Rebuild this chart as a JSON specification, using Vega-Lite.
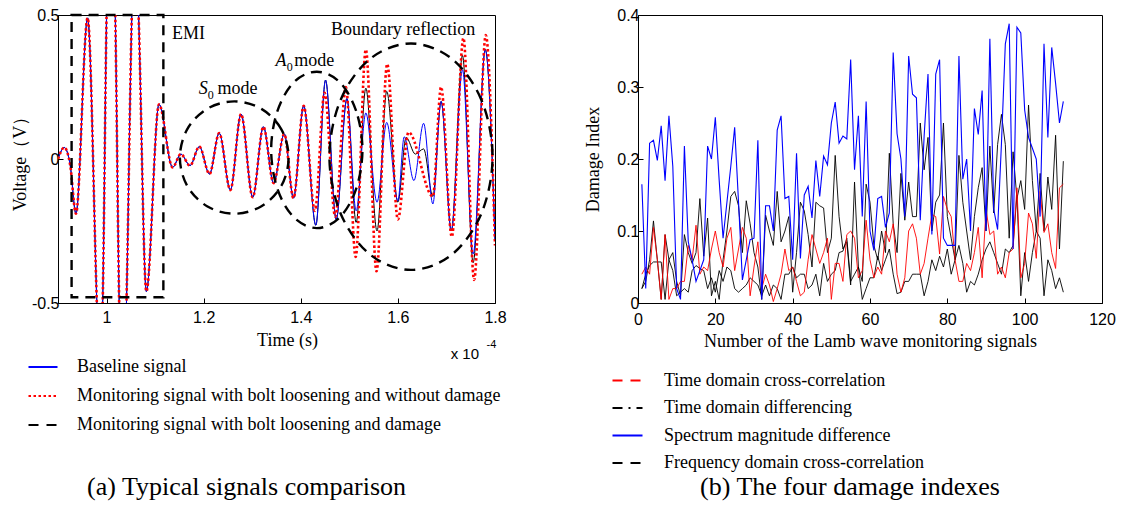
{
 "$schema": "https://vega.github.io/schema/vega-lite/v6.json",
 "background": "white",
 "padding": {"left": 10, "top": 6, "right": 5, "bottom": 0},
 "spacing": 143,
 "bounds": "flush",
 "resolve": {"scale": {"color": "independent"}, "legend": {"color": "independent"}},
 "datasets": {
  "sig": [
   {"s":"Baseline signal","t":0.900,"v":0},{"s":"Baseline signal","t":0.913,"v":0.04},{"s":"Baseline signal","t":0.925,"v":-0.02},{"s":"Baseline signal","t":0.937,"v":-0.19},{"s":"Baseline signal","t":0.961,"v":0.49},{"s":"Baseline signal","t":0.980,"v":-0.5},{"s":"Baseline signal","t":0.986,"v":-0.8},{"s":"Baseline signal","t":0.992,"v":-0.5},{"s":"Baseline signal","t":1.000,"v":0.5},{"s":"Baseline signal","t":1.009,"v":1.1},{"s":"Baseline signal","t":1.018,"v":0.5},{"s":"Baseline signal","t":1.026,"v":-0.5},{"s":"Baseline signal","t":1.034,"v":-0.95},{"s":"Baseline signal","t":1.041,"v":-0.5},{"s":"Baseline signal","t":1.052,"v":0.5},{"s":"Baseline signal","t":1.059,"v":0.85},{"s":"Baseline signal","t":1.066,"v":0.5},{"s":"Baseline signal","t":1.082,"v":-0.46},{"s":"Baseline signal","t":1.108,"v":0.19},{"s":"Baseline signal","t":1.136,"v":-0.029},{"s":"Baseline signal","t":1.153,"v":0.017},{"s":"Baseline signal","t":1.172,"v":-0.023},{"s":"Baseline signal","t":1.191,"v":0.043},{"s":"Baseline signal","t":1.212,"v":-0.052},{"s":"Baseline signal","t":1.232,"v":0.09},{"s":"Baseline signal","t":1.255,"v":-0.108},{"s":"Baseline signal","t":1.277,"v":0.156},{"s":"Baseline signal","t":1.301,"v":-0.133},{"s":"Baseline signal","t":1.323,"v":0.112},{"s":"Baseline signal","t":1.344,"v":-0.084},{"s":"Baseline signal","t":1.366,"v":0.087},{"s":"Baseline signal","t":1.385,"v":-0.136},{"s":"Baseline signal","t":1.406,"v":0.185},{"s":"Baseline signal","t":1.431,"v":-0.23},{"s":"Baseline signal","t":1.451,"v":0.274},{"s":"Baseline signal","t":1.473,"v":-0.21},{"s":"Baseline signal","t":1.495,"v":0.21},{"s":"Baseline signal","t":1.514,"v":-0.18},{"s":"Baseline signal","t":1.534,"v":0.16},{"s":"Baseline signal","t":1.557,"v":-0.15},{"s":"Baseline signal","t":1.577,"v":0.127},{"s":"Baseline signal","t":1.600,"v":-0.145},{"s":"Baseline signal","t":1.613,"v":0.077},{"s":"Baseline signal","t":1.633,"v":-0.075},{"s":"Baseline signal","t":1.653,"v":0.124},{"s":"Baseline signal","t":1.672,"v":-0.156},{"s":"Baseline signal","t":1.689,"v":0.2},{"s":"Baseline signal","t":1.710,"v":-0.25},{"s":"Baseline signal","t":1.733,"v":0.31},{"s":"Baseline signal","t":1.755,"v":-0.33},{"s":"Baseline signal","t":1.780,"v":0.38},{"s":"Baseline signal","t":1.800,"v":-0.28},

   {"s":"Monitoring signal with bolt loosening and without damage","t":0.900,"v":0},{"s":"Monitoring signal with bolt loosening and without damage","t":0.913,"v":0.04},{"s":"Monitoring signal with bolt loosening and without damage","t":0.925,"v":-0.02},{"s":"Monitoring signal with bolt loosening and without damage","t":0.937,"v":-0.19},{"s":"Monitoring signal with bolt loosening and without damage","t":0.961,"v":0.49},{"s":"Monitoring signal with bolt loosening and without damage","t":0.980,"v":-0.5},{"s":"Monitoring signal with bolt loosening and without damage","t":0.986,"v":-0.8},{"s":"Monitoring signal with bolt loosening and without damage","t":0.992,"v":-0.5},{"s":"Monitoring signal with bolt loosening and without damage","t":1.000,"v":0.5},{"s":"Monitoring signal with bolt loosening and without damage","t":1.009,"v":1.1},{"s":"Monitoring signal with bolt loosening and without damage","t":1.018,"v":0.5},{"s":"Monitoring signal with bolt loosening and without damage","t":1.026,"v":-0.5},{"s":"Monitoring signal with bolt loosening and without damage","t":1.034,"v":-0.95},{"s":"Monitoring signal with bolt loosening and without damage","t":1.041,"v":-0.5},{"s":"Monitoring signal with bolt loosening and without damage","t":1.052,"v":0.5},{"s":"Monitoring signal with bolt loosening and without damage","t":1.059,"v":0.85},{"s":"Monitoring signal with bolt loosening and without damage","t":1.066,"v":0.5},{"s":"Monitoring signal with bolt loosening and without damage","t":1.082,"v":-0.46},{"s":"Monitoring signal with bolt loosening and without damage","t":1.108,"v":0.19},{"s":"Monitoring signal with bolt loosening and without damage","t":1.136,"v":-0.029},{"s":"Monitoring signal with bolt loosening and without damage","t":1.153,"v":0.017},{"s":"Monitoring signal with bolt loosening and without damage","t":1.172,"v":-0.023},{"s":"Monitoring signal with bolt loosening and without damage","t":1.191,"v":0.043},{"s":"Monitoring signal with bolt loosening and without damage","t":1.212,"v":-0.052},{"s":"Monitoring signal with bolt loosening and without damage","t":1.232,"v":0.09},{"s":"Monitoring signal with bolt loosening and without damage","t":1.255,"v":-0.108},{"s":"Monitoring signal with bolt loosening and without damage","t":1.277,"v":0.156},{"s":"Monitoring signal with bolt loosening and without damage","t":1.301,"v":-0.133},{"s":"Monitoring signal with bolt loosening and without damage","t":1.323,"v":0.112},{"s":"Monitoring signal with bolt loosening and without damage","t":1.344,"v":-0.084},{"s":"Monitoring signal with bolt loosening and without damage","t":1.366,"v":0.087},{"s":"Monitoring signal with bolt loosening and without damage","t":1.385,"v":-0.136},{"s":"Monitoring signal with bolt loosening and without damage","t":1.406,"v":0.185},{"s":"Monitoring signal with bolt loosening and without damage","t":1.429,"v":-0.18},{"s":"Monitoring signal with bolt loosening and without damage","t":1.449,"v":0.23},{"s":"Monitoring signal with bolt loosening and without damage","t":1.471,"v":-0.2},{"s":"Monitoring signal with bolt loosening and without damage","t":1.493,"v":0.25},{"s":"Monitoring signal with bolt loosening and without damage","t":1.513,"v":-0.34},{"s":"Monitoring signal with bolt loosening and without damage","t":1.534,"v":0.38},{"s":"Monitoring signal with bolt loosening and without damage","t":1.556,"v":-0.39},{"s":"Monitoring signal with bolt loosening and without damage","t":1.578,"v":0.33},{"s":"Monitoring signal with bolt loosening and without damage","t":1.600,"v":-0.21},{"s":"Monitoring signal with bolt loosening and without damage","t":1.622,"v":0.093},{"s":"Monitoring signal with bolt loosening and without damage","t":1.672,"v":-0.13},{"s":"Monitoring signal with bolt loosening and without damage","t":1.689,"v":0.25},{"s":"Monitoring signal with bolt loosening and without damage","t":1.711,"v":-0.27},{"s":"Monitoring signal with bolt loosening and without damage","t":1.735,"v":0.42},{"s":"Monitoring signal with bolt loosening and without damage","t":1.757,"v":-0.42},{"s":"Monitoring signal with bolt loosening and without damage","t":1.781,"v":0.43},{"s":"Monitoring signal with bolt loosening and without damage","t":1.800,"v":-0.3},

   {"s":"Monitoring signal with bolt loosening and damage","t":0.900,"v":0},{"s":"Monitoring signal with bolt loosening and damage","t":0.913,"v":0.04},{"s":"Monitoring signal with bolt loosening and damage","t":0.925,"v":-0.02},{"s":"Monitoring signal with bolt loosening and damage","t":0.937,"v":-0.19},{"s":"Monitoring signal with bolt loosening and damage","t":0.961,"v":0.49},{"s":"Monitoring signal with bolt loosening and damage","t":0.980,"v":-0.5},{"s":"Monitoring signal with bolt loosening and damage","t":0.986,"v":-0.8},{"s":"Monitoring signal with bolt loosening and damage","t":0.992,"v":-0.5},{"s":"Monitoring signal with bolt loosening and damage","t":1.000,"v":0.5},{"s":"Monitoring signal with bolt loosening and damage","t":1.009,"v":1.1},{"s":"Monitoring signal with bolt loosening and damage","t":1.018,"v":0.5},{"s":"Monitoring signal with bolt loosening and damage","t":1.026,"v":-0.5},{"s":"Monitoring signal with bolt loosening and damage","t":1.034,"v":-0.95},{"s":"Monitoring signal with bolt loosening and damage","t":1.041,"v":-0.5},{"s":"Monitoring signal with bolt loosening and damage","t":1.052,"v":0.5},{"s":"Monitoring signal with bolt loosening and damage","t":1.059,"v":0.85},{"s":"Monitoring signal with bolt loosening and damage","t":1.066,"v":0.5},{"s":"Monitoring signal with bolt loosening and damage","t":1.082,"v":-0.46},{"s":"Monitoring signal with bolt loosening and damage","t":1.108,"v":0.19},{"s":"Monitoring signal with bolt loosening and damage","t":1.136,"v":-0.029},{"s":"Monitoring signal with bolt loosening and damage","t":1.153,"v":0.017},{"s":"Monitoring signal with bolt loosening and damage","t":1.172,"v":-0.023},{"s":"Monitoring signal with bolt loosening and damage","t":1.191,"v":0.043},{"s":"Monitoring signal with bolt loosening and damage","t":1.212,"v":-0.052},{"s":"Monitoring signal with bolt loosening and damage","t":1.232,"v":0.09},{"s":"Monitoring signal with bolt loosening and damage","t":1.255,"v":-0.108},{"s":"Monitoring signal with bolt loosening and damage","t":1.277,"v":0.156},{"s":"Monitoring signal with bolt loosening and damage","t":1.301,"v":-0.133},{"s":"Monitoring signal with bolt loosening and damage","t":1.323,"v":0.112},{"s":"Monitoring signal with bolt loosening and damage","t":1.344,"v":-0.084},{"s":"Monitoring signal with bolt loosening and damage","t":1.366,"v":0.087},{"s":"Monitoring signal with bolt loosening and damage","t":1.385,"v":-0.136},{"s":"Monitoring signal with bolt loosening and damage","t":1.406,"v":0.185},{"s":"Monitoring signal with bolt loosening and damage","t":1.431,"v":-0.23},{"s":"Monitoring signal with bolt loosening and damage","t":1.451,"v":0.274},{"s":"Monitoring signal with bolt loosening and damage","t":1.473,"v":-0.21},{"s":"Monitoring signal with bolt loosening and damage","t":1.495,"v":0.21},{"s":"Monitoring signal with bolt loosening and damage","t":1.514,"v":-0.22},{"s":"Monitoring signal with bolt loosening and damage","t":1.534,"v":0.246},{"s":"Monitoring signal with bolt loosening and damage","t":1.557,"v":-0.25},{"s":"Monitoring signal with bolt loosening and damage","t":1.577,"v":0.235},{"s":"Monitoring signal with bolt loosening and damage","t":1.600,"v":-0.15},{"s":"Monitoring signal with bolt loosening and damage","t":1.617,"v":0.075},{"s":"Monitoring signal with bolt loosening and damage","t":1.636,"v":0.017},{"s":"Monitoring signal with bolt loosening and damage","t":1.653,"v":0.035},{"s":"Monitoring signal with bolt loosening and damage","t":1.672,"v":-0.13},{"s":"Monitoring signal with bolt loosening and damage","t":1.689,"v":0.2},{"s":"Monitoring signal with bolt loosening and damage","t":1.710,"v":-0.25},{"s":"Monitoring signal with bolt loosening and damage","t":1.733,"v":0.36},{"s":"Monitoring signal with bolt loosening and damage","t":1.755,"v":-0.36},{"s":"Monitoring signal with bolt loosening and damage","t":1.780,"v":0.38},{"s":"Monitoring signal with bolt loosening and damage","t":1.800,"v":-0.28}
  ],
  "ell": [
   {"e":"s0","k":0,"t":1.375,"v":0.005},{"e":"s0","k":1,"t":1.360,"v":0.103},{"e":"s0","k":2,"t":1.319,"v":0.174},{"e":"s0","k":3,"t":1.263,"v":0.2},{"e":"s0","k":4,"t":1.207,"v":0.174},{"e":"s0","k":5,"t":1.166,"v":0.103},{"e":"s0","k":6,"t":1.151,"v":0.005},{"e":"s0","k":7,"t":1.166,"v":-0.093},{"e":"s0","k":8,"t":1.207,"v":-0.164},{"e":"s0","k":9,"t":1.263,"v":-0.19},{"e":"s0","k":10,"t":1.319,"v":-0.164},{"e":"s0","k":11,"t":1.360,"v":-0.093},
   {"e":"a0","k":0,"t":1.527,"v":0.032},{"e":"a0","k":1,"t":1.514,"v":0.167},{"e":"a0","k":2,"t":1.480,"v":0.267},{"e":"a0","k":3,"t":1.433,"v":0.303},{"e":"a0","k":4,"t":1.386,"v":0.267},{"e":"a0","k":5,"t":1.352,"v":0.167},{"e":"a0","k":6,"t":1.339,"v":0.032},{"e":"a0","k":7,"t":1.352,"v":-0.104},{"e":"a0","k":8,"t":1.386,"v":-0.203},{"e":"a0","k":9,"t":1.433,"v":-0.24},{"e":"a0","k":10,"t":1.480,"v":-0.203},{"e":"a0","k":11,"t":1.514,"v":-0.104},
   {"e":"br","k":0,"t":1.795,"v":0.008},{"e":"br","k":1,"t":1.772,"v":0.205},{"e":"br","k":2,"t":1.711,"v":0.348},{"e":"br","k":3,"t":1.627,"v":0.401},{"e":"br","k":4,"t":1.543,"v":0.348},{"e":"br","k":5,"t":1.482,"v":0.205},{"e":"br","k":6,"t":1.459,"v":0.008},{"e":"br","k":7,"t":1.482,"v":-0.189},{"e":"br","k":8,"t":1.543,"v":-0.332},{"e":"br","k":9,"t":1.627,"v":-0.385},{"e":"br","k":10,"t":1.711,"v":-0.332},{"e":"br","k":11,"t":1.772,"v":-0.189}
  ],
  "emi": [{"x1":0.928,"x2":1.117,"y1":0.5,"y2":-0.48}],
  "ann": [{"t":1.135,"v":0.434,"txt":"EMI"},{"t":1.2287,"v":0.243,"txt":"mode"},{"t":1.3867,"v":0.339,"txt":"mode"},{"t":1.462,"v":0.447,"txt":"Boundary reflection"}],
  "ital": [{"t":1.19,"v":0.243,"txt":"S"},{"t":1.348,"v":0.339,"txt":"A"}],
  "sub": [{"t":1.2085,"v":0.222,"txt":"0"},{"t":1.371,"v":0.318,"txt":"0"}],
  "expo": [{"t":1.7087,"v":-0.677,"txt":"x 10"}],
  "expo2": [{"t":1.7827,"v":-0.646,"txt":"-4"}],
  "dmg": [
   {"n":1,"tdcc":0.04,"tdd":0.02,"smd":0.165,"fdcc":0.02},
   {"n":2,"tdcc":0.05,"tdd":0.03,"smd":0.02,"fdcc":0.04},
   {"n":3,"tdcc":0.04,"tdd":0.06,"smd":0.222,"fdcc":0.052},
   {"n":4,"tdcc":0.105,"tdd":0.114,"smd":0.226,"fdcc":0.057},
   {"n":5,"tdcc":0.06,"tdd":0.06,"smd":0.198,"fdcc":0.057},
   {"n":6,"tdcc":0.005,"tdd":0.005,"smd":0.246,"fdcc":0.057},
   {"n":7,"tdcc":0.095,"tdd":0.095,"smd":0.17,"fdcc":0.005},
   {"n":8,"tdcc":0.005,"tdd":0.06,"smd":0.26,"fdcc":0.06},
   {"n":9,"tdcc":0.02,"tdd":0.07,"smd":0.19,"fdcc":0.045},
   {"n":10,"tdcc":0.02,"tdd":0.03,"smd":0.02,"fdcc":0.01},
   {"n":11,"tdcc":0.03,"tdd":0.01,"smd":0.005,"fdcc":0.015},
   {"n":12,"tdcc":0.03,"tdd":0.095,"smd":0.218,"fdcc":0.02},
   {"n":13,"tdcc":0.08,"tdd":0.07,"smd":0.085,"fdcc":0.015},
   {"n":14,"tdcc":0.06,"tdd":0.055,"smd":0.06,"fdcc":0.045},
   {"n":15,"tdcc":0.108,"tdd":0.07,"smd":0.03,"fdcc":0.052},
   {"n":16,"tdcc":0.04,"tdd":0.145,"smd":0.045,"fdcc":0.048},
   {"n":17,"tdcc":0.05,"tdd":0.065,"smd":0.06,"fdcc":0.045},
   {"n":18,"tdcc":0.045,"tdd":0.118,"smd":0.218,"fdcc":0.02},
   {"n":19,"tdcc":0.075,"tdd":0.01,"smd":0.2,"fdcc":0.035},
   {"n":20,"tdcc":0.1,"tdd":0.03,"smd":0.258,"fdcc":0.015},
   {"n":21,"tdcc":0.07,"tdd":0.005,"smd":0.17,"fdcc":0.045},
   {"n":22,"tdcc":0.05,"tdd":0.06,"smd":0.09,"fdcc":0.03},
   {"n":23,"tdcc":0.09,"tdd":0.1,"smd":0.14,"fdcc":0.05},
   {"n":24,"tdcc":0.105,"tdd":0.148,"smd":0.19,"fdcc":0.045},
   {"n":25,"tdcc":0.045,"tdd":0.155,"smd":0.244,"fdcc":0.02},
   {"n":26,"tdcc":0.075,"tdd":0.135,"smd":0.14,"fdcc":0.015},
   {"n":27,"tdcc":0.105,"tdd":0.07,"smd":0.032,"fdcc":0.02},
   {"n":28,"tdcc":0.09,"tdd":0.142,"smd":0.06,"fdcc":0.025},
   {"n":29,"tdcc":0.01,"tdd":0.11,"smd":0.088,"fdcc":0.035},
   {"n":30,"tdcc":0.05,"tdd":0.07,"smd":0.09,"fdcc":0.03},
   {"n":31,"tdcc":0.085,"tdd":0.05,"smd":0.226,"fdcc":0.025},
   {"n":32,"tdcc":0.02,"tdd":0.005,"smd":0.005,"fdcc":0.01},
   {"n":33,"tdcc":0.04,"tdd":0.122,"smd":0.135,"fdcc":0.025},
   {"n":34,"tdcc":0.025,"tdd":0.1,"smd":0.135,"fdcc":0.01},
   {"n":35,"tdcc":0.002,"tdd":0.08,"smd":0.1,"fdcc":0.025},
   {"n":36,"tdcc":0.02,"tdd":0.155,"smd":0.24,"fdcc":0.02},
   {"n":37,"tdcc":0.04,"tdd":0.085,"smd":0.26,"fdcc":0.005},
   {"n":38,"tdcc":0.075,"tdd":0.1,"smd":0.145,"fdcc":0.04},
   {"n":39,"tdcc":0.045,"tdd":0.12,"smd":0.148,"fdcc":0.04},
   {"n":40,"tdcc":0.05,"tdd":0.015,"smd":0.06,"fdcc":0.05},
   {"n":41,"tdcc":0.03,"tdd":0.07,"smd":0.208,"fdcc":0.035},
   {"n":42,"tdcc":0.01,"tdd":0.14,"smd":0.062,"fdcc":0.04},
   {"n":43,"tdcc":0.015,"tdd":0.128,"smd":0.15,"fdcc":0.04},
   {"n":44,"tdcc":0.06,"tdd":0.095,"smd":0.162,"fdcc":0.02},
   {"n":45,"tdcc":0.095,"tdd":0.05,"smd":0.118,"fdcc":0.025},
   {"n":46,"tdcc":0.075,"tdd":0.14,"smd":0.198,"fdcc":0.04},
   {"n":47,"tdcc":0.055,"tdd":0.135,"smd":0.148,"fdcc":0.01},
   {"n":48,"tdcc":0.07,"tdd":0.132,"smd":0.204,"fdcc":0.055},
   {"n":49,"tdcc":0.09,"tdd":0.07,"smd":0.192,"fdcc":0.03},
   {"n":50,"tdcc":0.005,"tdd":0.09,"smd":0.25,"fdcc":0.04},
   {"n":51,"tdcc":0.055,"tdd":0.205,"smd":0.279,"fdcc":0.045},
   {"n":52,"tdcc":0.055,"tdd":0.12,"smd":0.222,"fdcc":0.07},
   {"n":53,"tdcc":0.03,"tdd":0.075,"smd":0.232,"fdcc":0.072},
   {"n":54,"tdcc":0.095,"tdd":0.085,"smd":0.228,"fdcc":0.09},
   {"n":55,"tdcc":0.1,"tdd":0.025,"smd":0.338,"fdcc":0.03},
   {"n":56,"tdcc":0.09,"tdd":0.168,"smd":0.185,"fdcc":0.04},
   {"n":57,"tdcc":0.035,"tdd":0.05,"smd":0.26,"fdcc":0.05},
   {"n":58,"tdcc":0.045,"tdd":0.03,"smd":0.12,"fdcc":0.005},
   {"n":59,"tdcc":0.115,"tdd":0.165,"smd":0.28,"fdcc":0.02},
   {"n":60,"tdcc":0.06,"tdd":0.14,"smd":0.1,"fdcc":0.035},
   {"n":61,"tdcc":0.035,"tdd":0.08,"smd":0.073,"fdcc":0.035},
   {"n":62,"tdcc":0.05,"tdd":0.06,"smd":0.145,"fdcc":0.065},
   {"n":63,"tdcc":0.04,"tdd":0.1,"smd":0.148,"fdcc":0.045},
   {"n":64,"tdcc":0.1,"tdd":0.07,"smd":0.105,"fdcc":0.06},
   {"n":65,"tdcc":0.085,"tdd":0.208,"smd":0.125,"fdcc":0.075},
   {"n":66,"tdcc":0.11,"tdd":0.11,"smd":0.348,"fdcc":0.04},
   {"n":67,"tdcc":0.04,"tdd":0.07,"smd":0.235,"fdcc":0.013},
   {"n":68,"tdcc":0.015,"tdd":0.18,"smd":0.2,"fdcc":0.015},
   {"n":69,"tdcc":0.035,"tdd":0.115,"smd":0.12,"fdcc":0.03},
   {"n":70,"tdcc":0.1,"tdd":0.168,"smd":0.343,"fdcc":0.03},
   {"n":71,"tdcc":0.11,"tdd":0.12,"smd":0.29,"fdcc":0.04},
   {"n":72,"tdcc":0.09,"tdd":0.12,"smd":0.285,"fdcc":0.04},
   {"n":73,"tdcc":0.04,"tdd":0.25,"smd":0.115,"fdcc":0.04},
   {"n":74,"tdcc":0.055,"tdd":0.185,"smd":0.232,"fdcc":0.01},
   {"n":75,"tdcc":0.09,"tdd":0.23,"smd":0.318,"fdcc":0.03},
   {"n":76,"tdcc":0.123,"tdd":0.1,"smd":0.095,"fdcc":0.06},
   {"n":77,"tdcc":0.12,"tdd":0.14,"smd":0.318,"fdcc":0.045},
   {"n":78,"tdcc":0.068,"tdd":0.15,"smd":0.338,"fdcc":0.065},
   {"n":79,"tdcc":0.148,"tdd":0.25,"smd":0.09,"fdcc":0.05},
   {"n":80,"tdcc":0.13,"tdd":0.12,"smd":0.08,"fdcc":0.075},
   {"n":81,"tdcc":0.12,"tdd":0.09,"smd":0.08,"fdcc":0.04},
   {"n":82,"tdcc":0.06,"tdd":0.06,"smd":0.08,"fdcc":0.06},
   {"n":83,"tdcc":0.03,"tdd":0.205,"smd":0.343,"fdcc":0.08},
   {"n":84,"tdcc":0.03,"tdd":0.14,"smd":0.172,"fdcc":0.055},
   {"n":85,"tdcc":0.055,"tdd":0.1,"smd":0.2,"fdcc":0.015},
   {"n":86,"tdcc":0.045,"tdd":0.06,"smd":0.1,"fdcc":0.03},
   {"n":87,"tdcc":0.07,"tdd":0.12,"smd":0.27,"fdcc":0.025},
   {"n":88,"tdcc":0.105,"tdd":0.16,"smd":0.234,"fdcc":0.04},
   {"n":89,"tdcc":0.035,"tdd":0.188,"smd":0.295,"fdcc":0.06},
   {"n":90,"tdcc":0.13,"tdd":0.1,"smd":0.1,"fdcc":0.075},
   {"n":91,"tdcc":0.095,"tdd":0.218,"smd":0.367,"fdcc":0.085},
   {"n":92,"tdcc":0.1,"tdd":0.125,"smd":0.13,"fdcc":0.07},
   {"n":93,"tdcc":0.04,"tdd":0.22,"smd":0.102,"fdcc":0.055},
   {"n":94,"tdcc":0.05,"tdd":0.262,"smd":0.222,"fdcc":0.04},
   {"n":95,"tdcc":0.035,"tdd":0.22,"smd":0.36,"fdcc":0.075},
   {"n":96,"tdcc":0.07,"tdd":0.09,"smd":0.388,"fdcc":0.07},
   {"n":97,"tdcc":0.075,"tdd":0.21,"smd":0.075,"fdcc":0.08},
   {"n":98,"tdcc":0.16,"tdd":0.145,"smd":0.383,"fdcc":0.15},
   {"n":99,"tdcc":0.035,"tdd":0.17,"smd":0.375,"fdcc":0.01},
   {"n":100,"tdcc":0.055,"tdd":0.13,"smd":0.268,"fdcc":0.07},
   {"n":101,"tdcc":0.125,"tdd":0.275,"smd":0.23,"fdcc":0.03},
   {"n":102,"tdcc":0.11,"tdd":0.17,"smd":0.215,"fdcc":0.07},
   {"n":103,"tdcc":0.062,"tdd":0.1,"smd":0.2,"fdcc":0.1},
   {"n":104,"tdcc":0.155,"tdd":0.18,"smd":0.12,"fdcc":0.09},
   {"n":105,"tdcc":0.098,"tdd":0.1,"smd":0.36,"fdcc":0.01},
   {"n":106,"tdcc":0.11,"tdd":0.175,"smd":0.23,"fdcc":0.06},
   {"n":107,"tdcc":0.07,"tdd":0.13,"smd":0.355,"fdcc":0.045},
   {"n":108,"tdcc":0.048,"tdd":0.233,"smd":0.305,"fdcc":0.02},
   {"n":109,"tdcc":0.16,"tdd":0.075,"smd":0.25,"fdcc":0.035},
   {"n":110,"tdcc":0.165,"tdd":0.197,"smd":0.28,"fdcc":0.015}
  ]
 },
 "hconcat": [
  {
   "width": 437, "height": 288,
   "title": {"text": "(a) Typical signals comparison", "orient": "bottom", "anchor": "middle", "frame": "group", "dx": -30, "offset": 40, "font": "Liberation Serif", "fontSize": 26, "fontWeight": "normal", "color": "black"},
   "layer": [
    {
     "data": {"name": "sig"},
     "transform": [{"filter": "datum.s === 'Monitoring signal with bolt loosening and damage'"}],
     "mark": {"type": "line", "interpolate": "monotone", "strokeWidth": 1, "clip": true},
     "encoding": {
      "x": {"field": "t", "type": "quantitative", "scale": {"domain": [0.9, 1.8], "nice": false, "zero": false},
            "axis": {"values": [1, 1.2, 1.4, 1.6, 1.8], "labelExpr": "'' + datum.value", "title": "Time (s)", "labelFlush": false, "titleX": 229, "titlePadding": 6}},
      "y": {"field": "v", "type": "quantitative", "scale": {"domain": [-0.5, 0.5], "nice": false},
            "axis": {"values": [-0.5, 0, 0.5], "labelExpr": "'' + datum.value", "title": "Voltage（V）", "titlePadding": 2, "labelPadding": 4}},
      "color": {"field": "s", "type": "nominal",
        "scale": {"domain": ["Baseline signal", "Monitoring signal with bolt loosening and without damage", "Monitoring signal with bolt loosening and damage"], "range": ["#0000ff", "#ff0000", "#000000"]},
        "legend": {"orient": "none", "legendX": -31, "legendY": 336, "title": null, "symbolType": "stroke", "symbolSize": 841, "symbolStrokeWidth": 2.2, "labelFont": "Liberation Serif", "labelFontSize": 18, "labelColor": "black", "labelOffset": 18, "rowPadding": 4, "labelLimit": 700, "padding": 0,
          "encode": {"symbols": {"update": {"strokeDash": {"signal": "datum.value === 'Monitoring signal with bolt loosening and damage' ? [10,8] : (datum.value === 'Monitoring signal with bolt loosening and without damage' ? [2.5,2.5] : [1,0])"}}}}}}
     }
    },
    {
     "data": {"name": "sig"},
     "transform": [{"filter": "datum.s === 'Baseline signal'"}],
     "mark": {"type": "line", "interpolate": "monotone", "strokeWidth": 1, "clip": true},
     "encoding": {
      "x": {"field": "t", "type": "quantitative", "scale": {"domain": [0.9, 1.8], "nice": false, "zero": false}},
      "y": {"field": "v", "type": "quantitative", "scale": {"domain": [-0.5, 0.5], "nice": false}},
      "color": {"field": "s", "type": "nominal"}
     }
    },
    {
     "data": {"name": "sig"},
     "transform": [{"filter": "datum.s === 'Monitoring signal with bolt loosening and without damage'"}],
     "mark": {"type": "line", "interpolate": "monotone", "strokeWidth": 2.6, "strokeDash": [2.5, 2.5], "clip": true},
     "encoding": {
      "x": {"field": "t", "type": "quantitative", "scale": {"domain": [0.9, 1.8], "nice": false, "zero": false}},
      "y": {"field": "v", "type": "quantitative", "scale": {"domain": [-0.5, 0.5], "nice": false}},
      "color": {"field": "s", "type": "nominal"}
     }
    },
    {
     "data": {"name": "emi"},
     "mark": {"type": "rect", "fillOpacity": 0, "stroke": "black", "strokeWidth": 2.4, "strokeDash": [10, 7]},
     "encoding": {
      "x": {"field": "x1", "type": "quantitative", "scale": {"domain": [0.9, 1.8], "nice": false, "zero": false}},
      "x2": {"field": "x2"},
      "y": {"field": "y1", "type": "quantitative", "scale": {"domain": [-0.5, 0.5], "nice": false}},
      "y2": {"field": "y2"}
     }
    },
    {
     "data": {"name": "ell"},
     "mark": {"type": "line", "interpolate": "cardinal-closed", "color": "black", "strokeWidth": 2.4, "strokeDash": [11, 7]},
     "encoding": {
      "x": {"field": "t", "type": "quantitative", "scale": {"domain": [0.9, 1.8], "nice": false, "zero": false}},
      "y": {"field": "v", "type": "quantitative", "scale": {"domain": [-0.5, 0.5], "nice": false}},
      "detail": {"field": "e"},
      "order": {"field": "k"}
     }
    },
    {
     "data": {"name": "ann"},
     "mark": {"type": "text", "align": "left", "baseline": "middle", "font": "Liberation Serif", "fontSize": 18, "color": "black"},
     "encoding": {
      "x": {"field": "t", "type": "quantitative", "scale": {"domain": [0.9, 1.8], "nice": false, "zero": false}},
      "y": {"field": "v", "type": "quantitative", "scale": {"domain": [-0.5, 0.5], "nice": false}},
      "text": {"field": "txt"}
     }
    },
    {
     "data": {"name": "ital"},
     "mark": {"type": "text", "align": "left", "baseline": "middle", "font": "Liberation Serif", "fontSize": 18, "fontStyle": "italic", "color": "black"},
     "encoding": {
      "x": {"field": "t", "type": "quantitative", "scale": {"domain": [0.9, 1.8], "nice": false, "zero": false}},
      "y": {"field": "v", "type": "quantitative", "scale": {"domain": [-0.5, 0.5], "nice": false}},
      "text": {"field": "txt"}
     }
    },
    {
     "data": {"name": "sub"},
     "mark": {"type": "text", "align": "left", "baseline": "middle", "font": "Liberation Serif", "fontSize": 12, "color": "black"},
     "encoding": {
      "x": {"field": "t", "type": "quantitative", "scale": {"domain": [0.9, 1.8], "nice": false, "zero": false}},
      "y": {"field": "v", "type": "quantitative", "scale": {"domain": [-0.5, 0.5], "nice": false}},
      "text": {"field": "txt"}
     }
    },
    {
     "data": {"name": "expo"},
     "mark": {"type": "text", "align": "left", "baseline": "middle", "font": "Liberation Sans", "fontSize": 15, "color": "black"},
     "encoding": {
      "x": {"field": "t", "type": "quantitative", "scale": {"domain": [0.9, 1.8], "nice": false, "zero": false}},
      "y": {"field": "v", "type": "quantitative", "scale": {"domain": [-0.5, 0.5], "nice": false}},
      "text": {"field": "txt"}
     }
    },
    {
     "data": {"name": "expo2"},
     "mark": {"type": "text", "align": "left", "baseline": "middle", "font": "Liberation Sans", "fontSize": 11, "color": "black"},
     "encoding": {
      "x": {"field": "t", "type": "quantitative", "scale": {"domain": [0.9, 1.8], "nice": false, "zero": false}},
      "y": {"field": "v", "type": "quantitative", "scale": {"domain": [-0.5, 0.5], "nice": false}},
      "text": {"field": "txt"}
     }
    }
   ]
  },
  {
   "width": 464, "height": 288,
   "title": {"text": "(b) The four damage indexes", "orient": "bottom", "anchor": "middle", "frame": "group", "dx": -20, "offset": 2, "font": "Liberation Serif", "fontSize": 26, "fontWeight": "normal", "color": "black"},
   "data": {"name": "dmg"},
   "layer": [
    {
     "mark": {"type": "line", "strokeWidth": 0.9},
     "encoding": {
      "x": {"field": "n", "type": "quantitative", "scale": {"domain": [0, 120], "nice": false, "zero": false},
            "axis": {"values": [0, 20, 40, 60, 80, 100, 120], "title": "Number of the Lamb wave monitoring signals", "labelFlush": false, "labelPadding": 13, "titlePadding": 5}},
      "y": {"field": "tdd", "type": "quantitative", "title": "Damage Index", "scale": {"domain": [0, 0.4], "nice": false},
            "axis": {"values": [0, 0.1, 0.2, 0.3, 0.4], "labelExpr": "'' + datum.value", "titlePadding": 14, "labelPadding": 4}},
      "color": {"datum": "Time domain differencing", "type": "nominal",
        "scale": {"domain": ["Time domain cross-correlation", "Time domain differencing", "Spectrum magnitude difference", "Frequency domain cross-correlation"], "range": ["#ff0000", "#000000", "#0000ff", "#000000"]},
        "legend": {"orient": "none", "legendX": -27, "legendY": 349, "title": null, "symbolType": "stroke", "symbolSize": 900, "symbolStrokeWidth": 2.2, "labelFont": "Liberation Serif", "labelFontSize": 18, "labelColor": "black", "labelOffset": 20, "rowPadding": 1.5, "labelLimit": 700, "padding": 0,
          "encode": {"symbols": {"update": {"strokeDash": {"signal": "datum.value === 'Time domain cross-correlation' ? [10,8] : (datum.value === 'Time domain differencing' ? [10,6,2,6] : (datum.value === 'Frequency domain cross-correlation' ? [10,8] : [1,0]))"}}}}}}
     }
    },
    {
     "mark": {"type": "line", "strokeWidth": 0.9},
     "encoding": {
      "x": {"field": "n", "type": "quantitative", "scale": {"domain": [0, 120], "nice": false, "zero": false}},
      "y": {"field": "fdcc", "type": "quantitative", "title": "Damage Index", "scale": {"domain": [0, 0.4], "nice": false}},
      "color": {"datum": "Frequency domain cross-correlation", "type": "nominal"}
     }
    },
    {
     "mark": {"type": "line", "strokeWidth": 0.9},
     "encoding": {
      "x": {"field": "n", "type": "quantitative", "scale": {"domain": [0, 120], "nice": false, "zero": false}},
      "y": {"field": "tdcc", "type": "quantitative", "title": "Damage Index", "scale": {"domain": [0, 0.4], "nice": false}},
      "color": {"datum": "Time domain cross-correlation", "type": "nominal"}
     }
    },
    {
     "mark": {"type": "line", "strokeWidth": 1.1},
     "encoding": {
      "x": {"field": "n", "type": "quantitative", "scale": {"domain": [0, 120], "nice": false, "zero": false}},
      "y": {"field": "smd", "type": "quantitative", "title": "Damage Index", "scale": {"domain": [0, 0.4], "nice": false}},
      "color": {"datum": "Spectrum magnitude difference", "type": "nominal"}
     }
    }
   ]
  }
 ],
 "config": {
  "view": {"stroke": "black", "strokeWidth": 1},
  "axis": {"grid": false, "labelFont": "Liberation Sans", "labelFontSize": 16, "labelColor": "black", "titleFont": "Liberation Serif", "titleFontSize": 18, "titleFontWeight": "normal", "titleColor": "black", "domainColor": "black", "tickColor": "black", "tickSize": -5, "labelPadding": 11, "labelOverlap": false}
 }
}
